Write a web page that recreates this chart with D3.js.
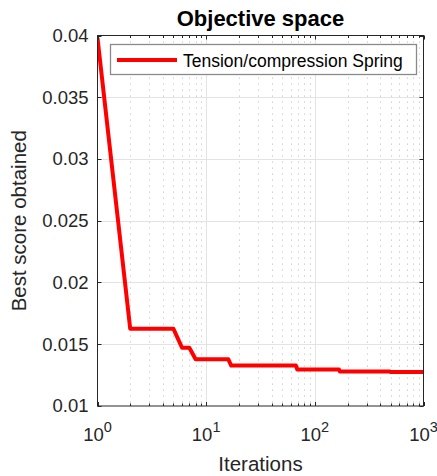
<!DOCTYPE html>
<html>
<head>
<meta charset="utf-8">
<script src="https://cdn.jsdelivr.net/npm/d3@7"></script>
<style>
  body { margin: 0; background: #fff; }
  svg text { font-family: "Liberation Sans", Arial, Helvetica, sans-serif; fill: #262626; }
</style>
</head>
<body>
<svg id="chart" width="437" height="476"></svg>
<script>
// Best score per iteration (step changes of the convergence curve)
const iterations = [1, 2, 5, 6, 7, 8, 16, 17, 67, 69, 167, 170, 490, 495, 990, 1000];
const bestScore = [0.0398, 0.01625, 0.01625, 0.01472, 0.01472, 0.01378, 0.01378, 0.01327,
                   0.01327, 0.01295, 0.01295, 0.0128, 0.0128, 0.01275, 0.01275, 0.01268];
const yTicks = [0.01, 0.015, 0.02, 0.025, 0.03, 0.035, 0.04];
const yTickLabels = ["0.01", "0.015", "0.02", "0.025", "0.03", "0.035", "0.04"];
const xTicks = [1, 10, 100, 1000];
const xTickExponents = ["0", "1", "2", "3"];
const seriesName = "Tension/compression Spring";
const chartTitle = "Objective space";
const xLabel = "Iterations";
const yLabel = "Best score obtained";

const svg = d3.select("#chart");
const plot = { left: 97.5, right: 423.5, top: 35.5, bottom: 406 };
const axisColor = "#262626";

const x = d3.scaleLog().domain([1, 1000]).range([plot.left, plot.right]);
const y = d3.scaleLinear().domain([0.01, 0.04]).range([plot.bottom, plot.top]);

// minor ticks between decades
const minorTicks = [];
[1, 10, 100].forEach(d => { for (let k = 2; k <= 9; k++) minorTicks.push(d * k); });

// grid
const grid = svg.append("g");
grid.selectAll(".minor").data(minorTicks).join("line")
  .attr("x1", d => Math.round(x(d)) + 0.5).attr("x2", d => Math.round(x(d)) + 0.5)
  .attr("y1", plot.top).attr("y2", plot.bottom)
  .attr("stroke", "#c4c4c4").attr("stroke-width", 1)
  .attr("stroke-dasharray", "1.2,4.8");
grid.selectAll(".majx").data(xTicks.slice(1, -1)).join("line")
  .attr("x1", d => Math.round(x(d)) + 0.5).attr("x2", d => Math.round(x(d)) + 0.5)
  .attr("y1", plot.top).attr("y2", plot.bottom)
  .attr("stroke", "#e3e3e3").attr("stroke-width", 1);
grid.selectAll(".majy").data(yTicks.slice(1, -1)).join("line")
  .attr("x1", plot.left).attr("x2", plot.right)
  .attr("y1", d => Math.round(y(d)) + 0.5).attr("y2", d => Math.round(y(d)) + 0.5)
  .attr("stroke", "#e3e3e3").attr("stroke-width", 1);

// convergence curve
svg.append("clipPath").attr("id", "plotClip").append("rect")
  .attr("x", plot.left).attr("y", plot.top)
  .attr("width", plot.right - plot.left).attr("height", plot.bottom - plot.top);

const data = iterations.map((it, i) => [it, bestScore[i]]);
svg.append("path")
  .datum(data)
  .attr("clip-path", "url(#plotClip)")
  .attr("fill", "none")
  .attr("stroke", "#ff0000")
  .attr("stroke-width", 4)
  .attr("stroke-linejoin", "round")
  .attr("d", d3.line().x(d => x(d[0])).y(d => y(d[1])));

// axes box and inward ticks
const axes = svg.append("g");
axes.append("rect")
  .attr("x", plot.left).attr("y", plot.top)
  .attr("width", plot.right - plot.left).attr("height", plot.bottom - plot.top)
  .attr("fill", "none").attr("stroke", axisColor).attr("stroke-width", 1);

const majorLen = 4, minorLen = 2.5;
const xTickMarks = [...xTicks.map(v => ({ v, len: majorLen })), ...minorTicks.map(v => ({ v, len: minorLen }))];
xTickMarks.forEach(t => {
  const px = Math.round(x(t.v)) + 0.5;
  axes.append("line").attr("x1", px).attr("x2", px)
    .attr("y1", plot.bottom).attr("y2", plot.bottom - t.len)
    .attr("stroke", axisColor);
  axes.append("line").attr("x1", px).attr("x2", px)
    .attr("y1", plot.top).attr("y2", plot.top + t.len)
    .attr("stroke", axisColor);
});
yTicks.forEach(v => {
  const py = Math.round(y(v)) + 0.5;
  axes.append("line").attr("x1", plot.left).attr("x2", plot.left + majorLen)
    .attr("y1", py).attr("y2", py).attr("stroke", axisColor);
  axes.append("line").attr("x1", plot.right).attr("x2", plot.right - majorLen)
    .attr("y1", py).attr("y2", py).attr("stroke", axisColor);
});

// tick labels
svg.append("g").selectAll("text").data(yTicks).join("text")
  .attr("x", plot.left - 9)
  .attr("y", d => y(d))
  .attr("dy", "0.35em")
  .attr("text-anchor", "end")
  .attr("font-size", 18.5)
  .text((d, i) => yTickLabels[i]);

const xl = svg.append("g").selectAll("text").data(xTicks).join("text")
  .attr("x", d => x(d))
  .attr("y", 440.5)
  .attr("text-anchor", "middle")
  .attr("font-size", 18.5);
xl.append("tspan").text("10");
xl.append("tspan").attr("dy", -9).attr("font-size", 14.5).text((d, i) => xTickExponents[i]);

// labels and title
svg.append("text")
  .attr("x", (plot.left + plot.right) / 2).attr("y", 471)
  .attr("text-anchor", "middle").attr("font-size", 20.5)
  .text(xLabel);
svg.append("text")
  .attr("transform", `translate(25.5,${(plot.top + plot.bottom) / 2}) rotate(-90)`)
  .attr("text-anchor", "middle").attr("font-size", 20.5)
  .text(yLabel);
svg.append("text")
  .attr("x", (plot.left + plot.right) / 2).attr("y", 25.5)
  .attr("text-anchor", "middle").attr("font-size", 22).attr("font-weight", "bold")
  .style("fill", "#000")
  .text(chartTitle);

// legend
const legend = svg.append("g");
legend.append("rect")
  .attr("x", 110.5).attr("y", 44.5).attr("width", 306).attr("height", 30)
  .attr("fill", "#fff").attr("stroke", "#8a8a8a").attr("stroke-width", 1.3);
legend.append("line")
  .attr("x1", 117).attr("x2", 177).attr("y1", 60).attr("y2", 60)
  .attr("stroke", "#ff0000").attr("stroke-width", 4);
legend.append("text")
  .attr("x", 183).attr("y", 66.5)
  .attr("font-size", 17.5).style("fill", "#000")
  .text(seriesName);
</script>
</body>
</html>
